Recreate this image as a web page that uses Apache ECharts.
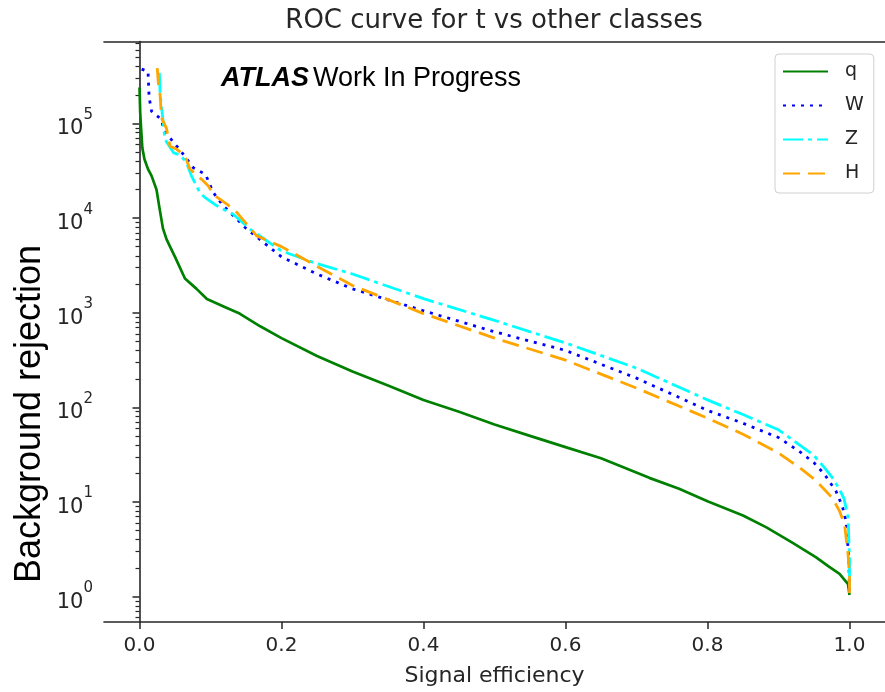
<!DOCTYPE html>
<html><head><meta charset="utf-8">
<script src="https://cdn.jsdelivr.net/npm/echarts@6/dist/echarts.min.js"></script>
<style>html,body{margin:0;padding:0;background:#fff}#c{width:885px;height:692px}</style>
</head><body><div id="c"></div><script>
const titleText = 'ROC curve for t vs other classes';
const xLabel = 'Signal efficiency';
const yLabel = 'Background rejection';
const xTicks = [0, 0.2, 0.4, 0.6, 0.8, 1.0];
const yTicks = [1, 10, 100, 1000, 10000, 100000];
const seriesNames = ['q', 'W', 'Z', 'H'];

const qEff = [0.000, 0.001, 0.002, 0.004, 0.007, 0.012, 0.017, 0.024, 0.028, 0.033, 0.038, 0.043, 0.050, 0.064, 0.080, 0.095, 0.120, 0.141, 0.170, 0.200, 0.250, 0.300, 0.350, 0.400, 0.450, 0.500, 0.550, 0.600, 0.650, 0.718, 0.760, 0.800, 0.850, 0.883, 0.920, 0.953, 0.970, 0.986, 0.998, 1.000];
const qRej = [240000, 130000, 95000, 55000, 42000, 33000, 28000, 20000, 13000, 7800, 6000, 5000, 3900, 2300, 1800, 1400, 1150, 980, 720, 540, 350, 240, 170, 120, 90, 66, 50, 38, 29, 18, 13.8, 10.2, 7.2, 5.4, 3.7, 2.6, 2.1, 1.74, 1.36, 1.04];

const wEff = [0.003, 0.012, 0.0135, 0.017, 0.031, 0.034, 0.048, 0.055, 0.076, 0.093, 0.104, 0.118, 0.137, 0.150, 0.200, 0.250, 0.300, 0.400, 0.500, 0.600, 0.700, 0.800, 0.850, 0.900, 0.930, 0.950, 0.965, 0.981, 0.990, 0.995, 0.999, 1.000];
const wRej = [376000, 355000, 190000, 135000, 110000, 87000, 63000, 55000, 34000, 29000, 18600, 13500, 9800, 7800, 3900, 2570, 1790, 1050, 630, 400, 204, 93, 68, 48, 34, 26, 19.5, 13, 9, 6.3, 2.6, 1.1];

const zEff = [0.028, 0.029, 0.036, 0.048, 0.057, 0.066, 0.073, 0.085, 0.092, 0.109, 0.132, 0.156, 0.200, 0.250, 0.300, 0.400, 0.500, 0.600, 0.700, 0.800, 0.850, 0.900, 0.930, 0.950, 0.965, 0.976, 0.985, 0.992, 0.998, 1.000, 1.000];
const zRej = [344000, 209000, 67600, 49000, 46800, 38900, 28200, 18600, 16600, 13500, 11000, 7600, 4500, 3300, 2570, 1410, 830, 480, 260, 120, 84, 58, 40, 31, 23, 18, 14, 11, 7, 2.5, 1.1];

const hEff = [0.025, 0.0265, 0.029, 0.031, 0.038, 0.043, 0.052, 0.064, 0.071, 0.0875, 0.097, 0.104, 0.123, 0.137, 0.165, 0.200, 0.250, 0.300, 0.400, 0.500, 0.600, 0.700, 0.800, 0.850, 0.900, 0.930, 0.948, 0.963, 0.976, 0.986, 0.993, 0.998, 1.000, 1.000];
const hRej = [386000, 269000, 200000, 115000, 89000, 57500, 53700, 45700, 33100, 25700, 21900, 17800, 14100, 11500, 6500, 5000, 3100, 1940, 980, 540, 316, 160, 77, 52, 33, 23, 18, 14, 11, 8, 5.8, 2.8, 1.6, 1.0];

const pairs = (e, r) => e.map((v, i) => [v, r[i]]);
const yMin = Math.pow(10, -0.268), yMax = Math.pow(10, 5.867);
const minorVals = [];
for (let p = -1; p <= 5; p++) for (let k = 2; k <= 9; k++) { const v = k * Math.pow(10, p); if (v >= yMin && v <= yMax) minorVals.push(v); }

const ink = '#262626';
const chart = echarts.init(document.getElementById('c'), null, {renderer: 'canvas'});
const mk = (name, data, color, width, type) => ({
  name, type: 'line', data, showSymbol: false, symbol: 'none', animation: false,
  lineStyle: {color, width, type, cap: 'butt', join: 'round'}, itemStyle: {color}
});
chart.setOption({
  animation: false,
  backgroundColor: '#fff',
  title: {text: titleText, left: 494, top: 8, padding: 0, textAlign: 'center',
    textStyle: {fontFamily: 'DejaVu Sans', fontSize: 26, fontWeight: 'normal', color: ink}},
  grid: {left: 104, right: 0, top: 41.5, bottom: 67, containLabel: false},
  legend: {
    orient: 'vertical', left: 775, top: 54, padding: [8, 10, 10, 7],
    itemWidth: 45, itemHeight: 14, itemGap: 15,
    itemStyle: {opacity: 0},
    backgroundColor: '#fff', borderColor: '#d0d0d0', borderWidth: 1, borderRadius: 4,
    textStyle: {fontFamily: 'DejaVu Sans', fontSize: 19, color: ink, padding: [0, 0, 0, 12]},
    data: seriesNames
  },
  xAxis: [{
    type: 'value', min: -0.05, max: 1.05, position: 'bottom',
    axisLine: {lineStyle: {color: ink, width: 1.6}},
    splitLine: {show: false},
    axisTick: {customValues: xTicks, length: 7, lineStyle: {color: ink, width: 1.5}},
    axisLabel: {customValues: xTicks, formatter: v => v.toFixed(1), fontFamily: 'DejaVu Sans', fontSize: 20, color: ink, margin: 14},
    name: xLabel, nameLocation: 'middle', nameGap: 43,
    nameTextStyle: {fontFamily: 'DejaVu Sans', fontSize: 22, color: ink}
  }, {
    type: 'value', min: -0.05, max: 1.05, position: 'top',
    axisLine: {lineStyle: {color: ink, width: 1.6}}, axisTick: {show: false}, axisLabel: {show: false}, splitLine: {show: false}
  }],
  yAxis: [{
    type: 'log', logBase: 10, min: yMin, max: yMax,
    axisLine: {show: true, lineStyle: {color: ink, width: 1.6}},
    splitLine: {show: false},
    axisTick: {customValues: yTicks, length: 7, lineStyle: {color: ink, width: 1.5}},
    axisLabel: {customValues: yTicks, margin: 11,
      formatter: v => '{b|10}{s|' + Math.round(Math.log10(v)) + '}',
      rich: {b: {fontFamily: 'DejaVu Sans', fontSize: 21, color: ink, lineHeight: 32, verticalAlign: 'bottom'},
             s: {fontFamily: 'DejaVu Sans', fontSize: 15, color: ink, lineHeight: 15, verticalAlign: 'top'}}}
  }, {
    type: 'log', logBase: 10, min: yMin, max: yMax, position: 'left',
    axisLine: {show: false}, splitLine: {show: false}, axisLabel: {show: false},
    axisTick: {customValues: minorVals, length: 4, lineStyle: {color: ink, width: 1.2}}
  }],
  graphic: [
    {type: 'text', left: 221, top: 65, style: {text: 'ATLAS', font: 'italic bold 27px "Liberation Sans"', fill: '#000'}},
    {type: 'text', left: 313, top: 65, style: {text: 'Work In Progress', font: '27px "Liberation Sans"', fill: '#000'}},
    {type: 'text', x: 30, y: 414, rotation: Math.PI / 2,
      style: {text: yLabel, font: '36px "Liberation Sans"', fill: '#000', align: 'center', verticalAlign: 'middle'}}
  ],
  series: [
    mk('q', pairs(qEff, qRej), '#008000', 2.7, 'solid'),
    mk('W', pairs(wEff, wRej), '#0000ff', 2.8, [3, 6]),
    mk('Z', pairs(zEff, zRej), '#00ffff', 2.8, [20, 5, 4, 5]),
    mk('H', pairs(hEff, hRej), '#ffa500', 2.8, [17, 8])
  ]
});
</script></body></html>
